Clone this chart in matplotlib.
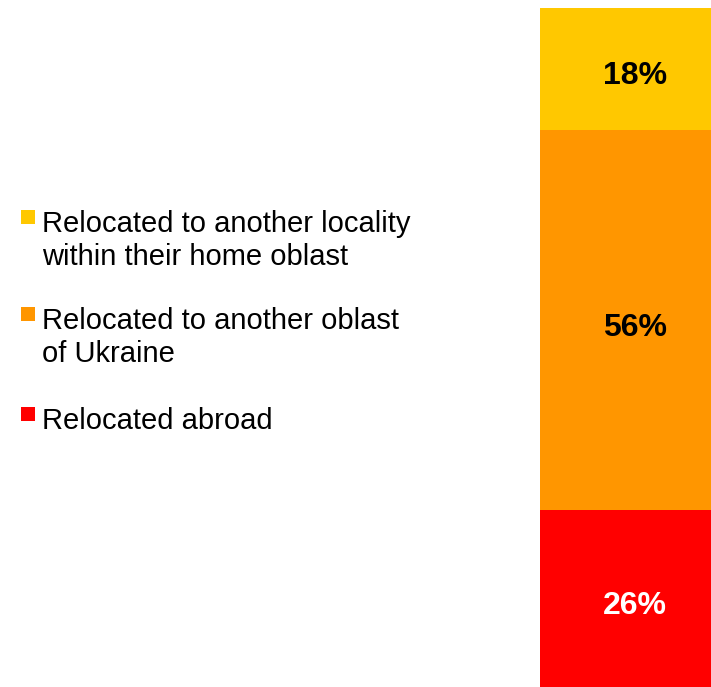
import matplotlib.pyplot as plt
from matplotlib.patches import Rectangle

plt.rcParams['font.family'] = ['Liberation Sans', 'DejaVu Sans']

categories = [
    'Relocated to another locality\nwithin their home oblast',
    'Relocated to another oblast\nof Ukraine',
    'Relocated abroad',
]
shares = [18, 56, 26]
colors = ['#FFC800', '#FF9600', '#FF0000']
label_colors = ['black', 'black', 'white']

W, H = 711, 687
fig = plt.figure(figsize=(W / 100, H / 100), dpi=100)

# stacked bar, partly running off the right edge
ax = fig.add_axes([540 / W, 0, 190 / W, 679 / H])
top = 100
for share, col, lc in zip(shares, colors, label_colors):
    ax.bar(0, share, bottom=top - share, width=1, color=col, linewidth=0)
    ax.annotate(f'{share}%', (0, top - share / 2), xytext=(0, -11),
                textcoords='offset points', ha='center', va='baseline',
                fontsize=23, fontweight='bold', color=lc)
    top -= share
ax.set_xlim(-0.5, 0.5)
ax.set_ylim(0, 100)
ax.axis('off')

# legend on the left, one entry per segment
marker_tops = [210, 307, 407]
for lab, col, y in zip(categories, colors, marker_tops):
    fig.patches.append(Rectangle((21 / W, 1 - (y + 14) / H), 14 / W, 14 / H,
                                 transform=fig.transFigure, color=col, lw=0))
    fig.text(42 / W, 1 - y / H, lab, ha='left', va='top',
             fontsize=21, linespacing=1.22)

fig.savefig('out.png', dpi=100)
